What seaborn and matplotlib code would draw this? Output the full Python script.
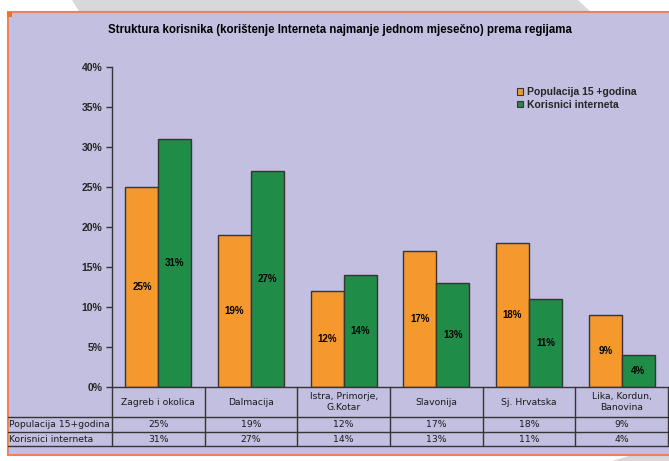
import matplotlib
matplotlib.use("Agg")
import matplotlib.pyplot as plt
import matplotlib.patches as mpatches
from matplotlib.lines import Line2D
from matplotlib.transforms import blended_transform_factory
import seaborn as sns
import pandas as pd

# ---- data -------------------------------------------------------------
regions = ["Zagreb i okolica", "Dalmacija", "Istra, Primorje,\nG.Kotar",
           "Slavonija", "Sj. Hrvatska", "Lika, Kordun,\nBanovina"]
population = [25, 19, 12, 17, 18, 9]
internet_users = [31, 27, 14, 13, 11, 4]
row_names = ["Populacija 15+godina", "Korisnici interneta"]
legend_names = ["Populacija 15 +godina", "Korisnici interneta"]
y_ticks = [0, 5, 10, 15, 20, 25, 30, 35, 40]
title = "Struktura korisnika (korištenje Interneta najmanje jednom mjesečno) prema regijama"

# ---- style ------------------------------------------------------------
sns.set_theme(style="white")
plt.rcParams["font.family"] = ["Liberation Sans", "DejaVu Sans"]

ORANGE = "#f5982e"
GREEN = "#1f8c47"
PANEL = "#c2bfe0"
BORDER = "#e8845e"
EDGE = "#383434"

W, H = 669, 461
fig = plt.figure(figsize=(W / 100, H / 100), dpi=100)
fig.patch.set_facecolor("white")


def fx(px):
    return px / W


def fy(py):
    return 1 - py / H


# decorative page shapes behind the chart panel
fig.patches.append(mpatches.Polygon(
    [(fx(72), fy(0)), (fx(578), fy(0)), (fx(592), fy(13)), (fx(80), fy(13))],
    closed=True, transform=fig.transFigure, facecolor="#d8d8da",
    edgecolor="none", zorder=-3))
fig.patches.append(mpatches.Polygon(
    [(fx(612), fy(461)), (fx(669), fy(461)), (fx(669), fy(455)), (fx(632), fy(455))],
    closed=True, transform=fig.transFigure, facecolor="#d8d8da",
    edgecolor="none", zorder=-3))

# chart panel with its border
fig.patches.append(mpatches.Rectangle(
    (fx(8), fy(455)), fx(700) - fx(8), fy(12) - fy(455),
    transform=fig.transFigure, facecolor=PANEL, edgecolor=BORDER,
    linewidth=1.5, zorder=-2))
fig.patches.append(mpatches.Rectangle(
    (fx(7), fy(17)), fx(5), fy(12) - fy(17),
    transform=fig.transFigure, facecolor="#ec6f35", edgecolor="none",
    zorder=-1))

# ---- bars -------------------------------------------------------------
df = pd.DataFrame({
    "region": regions * 2,
    "value": population + internet_users,
    "series": [row_names[0]] * len(regions) + [row_names[1]] * len(regions),
})

ax = fig.add_axes([fx(112), fy(387), fx(668) - fx(112), fy(67) - fy(387)])
ax.set_zorder(1)
ax.set_facecolor("none")
sns.barplot(data=df, x="region", y="value", hue="series",
            palette=[ORANGE, GREEN], width=0.71, saturation=1,
            edgecolor=EDGE, linewidth=1.0, legend=False, ax=ax)

for cont in ax.containers:
    ax.bar_label(cont, labels=[f"{int(v)}%" for v in cont.datavalues],
                 label_type="center", fontsize=7, fontweight="bold",
                 color="black")

ax.set_xlim(-0.5, len(regions) - 0.5)
ax.set_ylim(0, 40)
ax.set_yticks(y_ticks)
ax.set_yticklabels([f"{t}%" for t in y_ticks], fontsize=7.5, fontweight="bold")
ax.tick_params(axis="y", left=True, direction="out", length=4, width=1,
               color=EDGE, pad=3)
ax.tick_params(axis="x", bottom=False, labelbottom=False)
ax.set_xlabel("")
ax.set_ylabel("")
for side in ["top", "right"]:
    ax.spines[side].set_visible(False)
for side in ["left", "bottom"]:
    ax.spines[side].set_color(EDGE)
    ax.spines[side].set_linewidth(1.0)

fig.text(fx(340), fy(30), title, ha="center", va="center",
         fontsize=8.3, fontweight="bold", color="black")

handles = [mpatches.Patch(facecolor=c, edgecolor=EDGE, linewidth=0.8)
           for c in (ORANGE, GREEN)]
fig.legend(handles, legend_names, loc="upper left",
           bbox_to_anchor=(fx(512), fy(82)), bbox_transform=fig.transFigure,
           frameon=False, handlelength=0.6, handleheight=0.6,
           handletextpad=0.3, labelspacing=0.25, borderpad=0,
           prop={"size": 7.5, "weight": "bold"})

# ---- data table under the axis ----------------------------------------
blend = blended_transform_factory(ax.transData, fig.transFigure)
line_kw = dict(color=EDGE, linewidth=1.0, zorder=2)

for ypx in (417, 432, 446):
    fig.add_artist(Line2D([fx(8), fx(668)], [fy(ypx), fy(ypx)],
                          transform=fig.transFigure, **line_kw))
for k in range(len(regions) + 1):
    fig.add_artist(Line2D([k - 0.5, k - 0.5], [fy(387), fy(446)],
                          transform=blend, **line_kw))

table_font = dict(family=["DejaVu Sans"], fontsize=6.7, color="#1a1a1a")
for i, name in enumerate(regions):
    fig.text(i, fy(402), name, transform=blend, ha="center", va="center",
             linespacing=1.25, **table_font)
    fig.text(i, fy(424.5), f"{population[i]}%", transform=blend,
             ha="center", va="center", **table_font)
    fig.text(i, fy(439), f"{internet_users[i]}%", transform=blend,
             ha="center", va="center", **table_font)

fig.text(fx(9), fy(424.5), row_names[0], ha="left", va="center", **table_font)
fig.text(fx(9), fy(439), row_names[1], ha="left", va="center", **table_font)

fig.savefig("out.png", dpi=100, facecolor=fig.get_facecolor())
